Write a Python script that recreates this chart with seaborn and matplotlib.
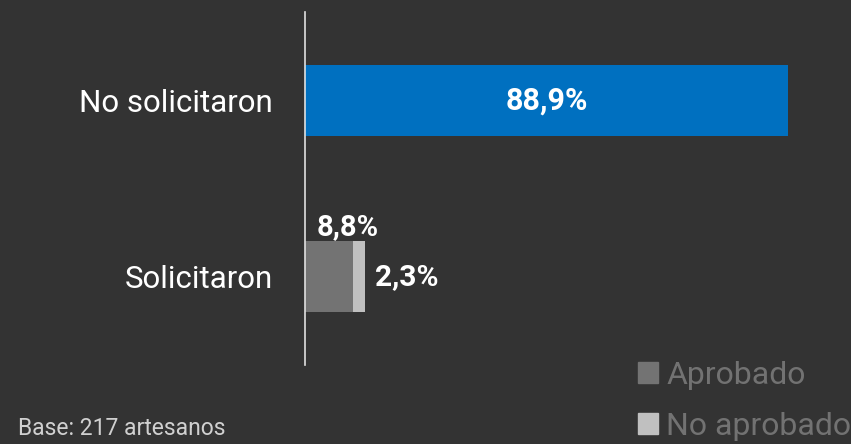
import matplotlib
matplotlib.use("Agg")
import matplotlib.pyplot as plt
import matplotlib.patches as mpatches
import seaborn as sb
import pandas as pd

categories = ["No solicitaron", "Solicitaron"]
no_solicitaron = [88.9]
aprobado = [8.8]
no_aprobado = [2.3]
legend_labels = ["Aprobado", "No aprobado"]
base_note = "Base: 217 artesanos"

bg = "#333333"
blue = "#0070c0"
dark_gray = "#737373"
light_gray = "#c0c0c0"

sb.set_style("white")
plt.rcParams["font.family"] = ["Roboto", "DejaVu Sans"]

fig = plt.figure(figsize=(8.51, 4.44), dpi=100, facecolor=bg)
ax = fig.add_axes([305 / 851, 1 - 365 / 444, 1 - 305 / 851, 353 / 444])
ax.set_facecolor(bg)

totals = pd.DataFrame({
    "cat": categories,
    "val": [no_solicitaron[0], aprobado[0] + no_aprobado[0]],
})
sb.barplot(data=totals, x="val", y="cat", order=categories, hue="cat",
           palette=[blue, light_gray], width=0.4, legend=False, ax=ax,
           saturation=1, linewidth=0)

inner = pd.DataFrame({"cat": ["Solicitaron"], "val": aprobado})
sb.barplot(data=inner, x="val", y="cat", order=categories, color=dark_gray,
           width=0.4, ax=ax, saturation=1, linewidth=0)

ax.set_xlim(0, 100.4)
ax.set_ylim(1.5, -0.5)
ax.set_xlabel("")
ax.set_ylabel("")
ax.set_xticks([])
for s in ["top", "right", "bottom"]:
    ax.spines[s].set_visible(False)
ax.spines["left"].set_color("#e0e0e0")
ax.spines["left"].set_linewidth(1.2)
ax.tick_params(axis="y", length=0, pad=23, labelsize=22.5, labelcolor="white")

fmt = lambda v: f"{v:.1f}%".replace(".", ",")
ax.text(no_solicitaron[0] / 2, 0, fmt(no_solicitaron[0]), color="white",
        fontsize=22, fontweight="bold", ha="center", va="center")
ax.text(aprobado[0] / 2 + 3.4, 1 - 0.28, fmt(aprobado[0]), color="white",
        fontsize=21, fontweight="bold", ha="center", va="center")
ax.text(aprobado[0] + no_aprobado[0] + 1.8, 1, fmt(no_aprobado[0]),
        color="white", fontsize=21.5, fontweight="bold", ha="left", va="center")

handles = [mpatches.Patch(color=dark_gray, label=legend_labels[0]),
           mpatches.Patch(color=light_gray, label=legend_labels[1])]
fig.legend(handles=handles, loc="lower right", bbox_to_anchor=(1.034, -0.058),
           frameon=False, fontsize=23, labelcolor="#727272",
           handlelength=0.62, handleheight=0.62, handletextpad=0.25,
           labelspacing=0.7)

fig.text(18 / 851, 1 - 428 / 444, base_note, color="#d0d0d0", fontsize=16.5,
         ha="left", va="center")

fig.savefig("out.png", dpi=100, facecolor=bg)
